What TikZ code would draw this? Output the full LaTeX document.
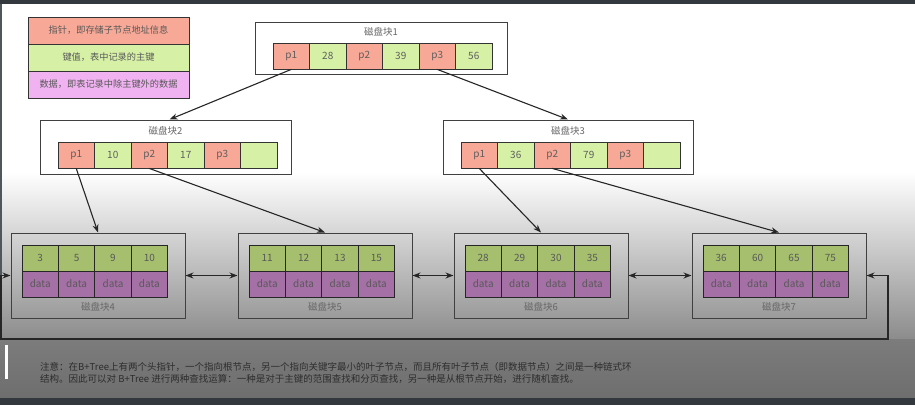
\documentclass[tikz,border=0pt]{standalone}
\usepackage{fontspec}
\setmainfont{Noto Sans CJK SC}
\usetikzlibrary{arrows.meta,calc}
\definecolor{ptr}{RGB}{248,168,150}
\definecolor{key}{RGB}{214,240,166}
\definecolor{dat}{RGB}{240,178,240}
\definecolor{lkey}{RGB}{166,191,110}
\definecolor{ldat}{RGB}{165,112,165}
\definecolor{frame}{RGB}{50,56,62}
\definecolor{panelA}{RGB}{124,124,124}
\definecolor{panelB}{RGB}{110,110,110}
\definecolor{gradB}{RGB}{140,140,140}
\definecolor{txt}{RGB}{95,95,95}
\definecolor{notetxt}{RGB}{45,45,45}
\begin{document}
\begin{tikzpicture}[x=1pt,y=-1pt,
  cell/.style={draw=black!80,line width=0.8pt,minimum width=36.5pt,minimum height=26pt,inner sep=0pt,font=\fontsize{10}{10}\selectfont,text=txt},
  lcell/.style={draw=black!85,line width=0.8pt,minimum width=36.4pt,minimum height=26pt,inner sep=0pt,font=\fontsize{10}{10}\selectfont,text=black!65},
  blk/.style={draw=black!75,line width=1pt,inner sep=0pt},
  lbl/.style={font=\fontsize{9.5}{9.5}\selectfont,text=black!60,inner sep=0pt},
  legend/.style={draw=black!80,line width=0.9pt,minimum width=161pt,minimum height=27pt,inner sep=0pt,font=\fontsize{9.2}{9.2}\selectfont,text=black!65},
  arr/.style={draw=black!85,line width=1.1pt,-{Stealth[length=8pt,width=6pt]}},
  darr/.style={draw=black!85,line width=1.1pt,{Stealth[length=8pt,width=6pt]}-{Stealth[length=8pt,width=6pt]}},
  note/.style={font=\fontsize{9.5}{9.5}\selectfont,text=notetxt,inner sep=0pt,anchor=west}]
\useasboundingbox (0,0) rectangle (915,405);
% background
\fill[white] (0,0) rectangle (915,405);
\shade[top color=white,bottom color=gradB] (0,172) rectangle (915,339);
\shade[top color=panelA,bottom color=panelB] (0,339) rectangle (915,398);
\fill[frame] (0,398) rectangle (915,405);
\fill[frame] (0,0) rectangle (915,4);
\fill[frame!85] (0,4) rectangle (2,339);
\fill[white] (5,345) rectangle (8,379);
% legend
\node[legend,fill=ptr] (lg1) at (108.5,30.5) {指针，即存储子节点地址信息};
\node[legend,fill=key] (lg2) at (108.5,57.5) {键值，表中记录的主键};
\node[legend,fill=dat] (lg3) at (108.5,84.5) {数据，即表记录中除主键外的数据};
% root block
\node[blk,minimum width=252pt,minimum height=52pt] (b1) at (381,48) {};
\node[lbl] (b1l) at (381,32) {磁盘块1};
\foreach \t [count=\i] in {p1,28,p2,39,p3,56}{
  \ifodd\i \def\cc{ptr}\else\def\cc{key}\fi
  \node[cell,fill=\cc] (r\i) at ({273+36.5*(\i-0.5)},56) {\t};
}
% block 2
\node[blk,minimum width=251pt,minimum height=54pt] (b2) at (165.5,147) {};
\node[lbl] (b2l) at (165.5,131) {磁盘块2};
\foreach \t [count=\i] in {p1,10,p2,17,p3,{}}{
  \ifodd\i \def\cc{ptr}\else\def\cc{key}\fi
  \node[cell,fill=\cc] (s\i) at ({58+36.5*(\i-0.5)},155) {\t};
}
% block 3
\node[blk,minimum width=250pt,minimum height=54pt] (b3) at (568,147) {};
\node[lbl] (b3l) at (568,131) {磁盘块3};
\foreach \t [count=\i] in {p1,36,p2,79,p3,{}}{
  \ifodd\i \def\cc{ptr}\else\def\cc{key}\fi
  \node[cell,fill=\cc] (t\i) at ({461+36.5*(\i-0.5)},155) {\t};
}
% leaves
\foreach \n/\x/\ka/\kb/\kc/\kd in {4/11/3/5/9/10, 5/238/11/12/13/15, 6/454/28/29/30/35, 7/692/36/60/65/75}{
  \node[blk,minimum width=174pt,minimum height=85pt] (l\n) at ({\x+87},275.5) {};
  \node[lbl] (l\n l) at ({\x+87},307) {磁盘块\n};
  \foreach \k [count=\j] in {\ka,\kb,\kc,\kd}{
    \node[lcell,fill=lkey] (k\n\j) at ({\x+11+36.4*(\j-0.5)},258) {\k};
    \node[lcell,fill=ldat] (d\n\j) at ({\x+11+36.4*(\j-0.5)},284) {data};
  }
}
% tree arrows
\draw[arr] (r1.south) -- ($(b2.north)+(4,0)$);
\draw[arr] (r5.south) -- (b3.north);
\draw[arr] (s1.south) -- (l4.north);
\draw[arr] (s3.south) -- (l5.north);
\draw[arr] (t1.south) -- (l6.north);
\draw[arr] (t3.south) -- (l7.north);
% leaf links
\draw[darr] (l4.east) -- (l5.west);
\draw[darr] (l5.east) -- (l6.west);
\draw[darr] (l6.east) -- (l7.west);
% loop
\coordinate (lpR) at (888,275.5);
\coordinate (lpRB) at (888,339);
\coordinate (lpLB) at (1,339);
\coordinate (lpL) at (1,275.5);
\draw[darr] (l7.east) -- (lpR) -- (lpRB) -- (lpLB) -- (lpL) -- (l4.west);
% note
\node[note] (n1) at (40,367) {注意：在B+Tree上有两个头指针，一个指向根节点，另一个指向关键字最小的叶子节点，而且所有叶子节点（即数据节点）之间是一种链式环};
\node[note] (n2) at (40,379) {结构。因此可以对 B+Tree 进行两种查找运算：一种是对于主键的范围查找和分页查找，另一种是从根节点开始，进行随机查找。};
\end{tikzpicture}
\end{document}
